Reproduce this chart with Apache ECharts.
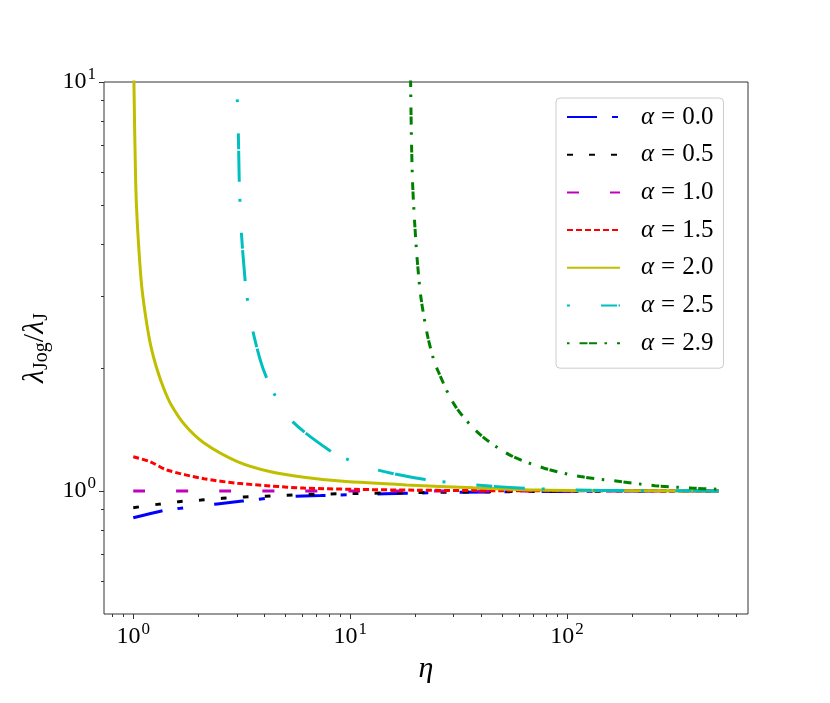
<!DOCTYPE html>
<html>
<head>
<meta charset="utf-8">
<script src="https://cdn.jsdelivr.net/npm/echarts@6/dist/echarts.min.js"></script>
<style>
  html, body { margin: 0; padding: 0; background: #fff; }
  #myChart { width: 830px; height: 703px; }
</style>
</head>
<body>
<div id="myChart"></div>
<script>
// values: eta on x, lambda_Jog / lambda_J on y
const eta00 = [1, 1.37, 1.65, 2.44, 4.15, 5.12, 7.31, 10.4, 20, 50, 100, 200, 500]
const val00 = [0.860, 0.895, 0.907, 0.929, 0.959, 0.968, 0.974, 0.979, 0.988, 0.995, 0.997, 0.999, 1.0]

const eta05 = [1, 1.29, 1.62, 2.05, 2.57, 3.24, 4.08, 5.12, 6.45, 8.12, 10.2, 20, 50, 100, 200, 500]
const val05 = [0.910, 0.927, 0.941, 0.950, 0.959, 0.966, 0.970, 0.976, 0.981, 0.983, 0.985, 0.991, 0.996, 0.998, 0.999, 1.0]

const eta10 = [1, 10, 100, 500]
const val10 = [1, 1, 1, 1]

const eta15 = [1, 1.19, 1.43, 2.12, 3.02, 4.30, 6.12, 10.4, 20, 50, 100, 500]
const val15 = [1.212, 1.18, 1.125, 1.071, 1.044, 1.028, 1.016, 1.009, 1.004, 1.001, 1.0005, 1.0]

const eta20 = [1.004, 1.007, 1.026, 1.043, 1.089, 1.138, 1.203, 1.29, 1.385, 1.49, 1.73, 2.12, 3.02, 4.30, 6.12, 8.98, 18.2, 36.9, 75, 150, 500]
const val20 = [14, 10.0, 5.69, 4.55, 3.24, 2.69, 2.27, 1.975, 1.775, 1.63, 1.449, 1.31, 1.18, 1.114, 1.08, 1.057, 1.034, 1.018, 1.005, 1.002, 1.0]

const eta25 = [3.016, 3.05, 3.08, 3.10, 3.15, 3.28, 3.35, 3.56, 3.87, 4.10, 4.45, 5.41, 8.13, 9.59, 13.3, 22.2, 37.9, 63.9, 109, 184, 500]
const val25 = [9.07, 7.47, 5.72, 5.17, 4.28, 3.26, 2.96, 2.46, 2.07, 1.90, 1.73, 1.48, 1.25, 1.197, 1.126, 1.066, 1.034, 1.015, 1.005, 1.002, 1.0]

const eta29 = [18.95, 19.0, 19.07, 19.2, 19.42, 19.84, 20.39, 21.21, 22.68, 24.16, 25.35, 30.1, 38.96, 54.0, 77.9, 115.3, 171.7, 254, 375, 500]
const val29 = [11.5, 9.81, 8.45, 6.87, 5.56, 4.50, 3.65, 2.96, 2.41, 2.11, 1.97, 1.63, 1.386, 1.227, 1.138, 1.084, 1.056, 1.030, 1.016, 1.009]

const alphas = ['0.0', '0.5', '1.0', '1.5', '2.0', '2.5', '2.9']

// tick positions (log axes)
const xMajor = [1, 10, 100]
const xMinor = [0.8, 0.9, 2, 3, 4, 5, 6, 7, 8, 9, 20, 30, 40, 50, 60, 70, 80, 90, 200, 300, 400, 500, 600]
const yMajor = [1, 10]
const yMinor = [0.6, 0.7, 0.8, 0.9, 2, 3, 4, 5, 6, 7, 8, 9]

const FONT = '"Liberation Serif", "DejaVu Serif", serif'
const AXIS_COLOR = '#333'

const lg = Math.log10
const xMin = -0.05 * lg(500)
const xMax = 1.05 * lg(500)
const yMin = lg(0.5)
const yMax = 1

const curves = [
  { eta: eta00, val: val00, color: '#0000ff', dash: [30, 15, 6, 31] },
  { eta: eta05, val: val05, color: '#000000', dash: [6, 16] },
  { eta: eta10, val: val10, color: '#bf00bf', dash: [12, 31] },
  { eta: eta15, val: val15, color: '#ff0000', dash: [6, 3] },
  { eta: eta20, val: val20, color: '#bfbf00', dash: 'solid' },
  { eta: eta25, val: val25, color: '#00bfbf', dash: [3, 31, 16, 1.5, 31, 17] },
  { eta: eta29, val: val29, color: '#008000', dash: [2.5, 10, 8, 1.5, 8, 7.5] }
]

const names = alphas.map(a => 'α = ' + a)

const series = curves.map((c, i) => ({
  name: names[i],
  type: 'line',
  data: c.eta.map((e, k) => [lg(e), lg(c.val[k])]),
  symbol: 'none',
  showSymbol: false,
  smooth: 0.3,
  clip: true,
  silent: true,
  color: c.color,
  lineStyle: { color: c.color, width: 3, type: c.dash, cap: 'butt' }
}))

const supRich = {
  b: { fontFamily: FONT, fontSize: 24, color: '#000' },
  s: { fontFamily: FONT, fontSize: 17, color: '#000', padding: [0, 0, 15, 1] }
}
const powLabel = v => '{b|10}{s|' + Math.round(v) + '}'

const option = {
  animation: false,
  backgroundColor: '#fff',
  grid: {
    show: true, left: 104, top: 82, width: 644, height: 532,
    borderColor: AXIS_COLOR, borderWidth: 1, backgroundColor: '#fff'
  },
  legend: {
    orient: 'vertical', left: 556, top: 98,
    padding: [6, 10, 12, 10],
    itemWidth: 53, itemHeight: 14, itemGap: 11.7,
    backgroundColor: '#fff', borderColor: '#cccccc', borderWidth: 1, borderRadius: 4,
    itemStyle: { opacity: 0, color: 'rgba(0,0,0,0)', borderWidth: 0 },
    selectedMode: false,
    data: names,
    formatter: n => '{g| }{a|α}{e|=}{n|' + n.split('= ')[1] + '}',
    textStyle: {
      fontFamily: FONT, fontSize: 25, lineHeight: 26, color: '#000',
      rich: {
        g: { width: 16, lineHeight: 26 },
        a: { fontFamily: FONT, fontSize: 25, fontStyle: 'italic', lineHeight: 26 },
        e: { fontFamily: FONT, fontSize: 25, lineHeight: 26, padding: [0, 7, 0, 7] },
        n: { fontFamily: FONT, fontSize: 25, lineHeight: 26 }
      }
    }
  },
  xAxis: [
    {
      type: 'value', min: xMin, max: xMax,
      name: 'η', nameLocation: 'middle', nameGap: 22,
      nameTextStyle: { fontFamily: FONT, fontSize: 30, fontStyle: 'italic', color: '#000' },
      axisLine: { show: false, onZero: false },
      splitLine: { show: false },
      axisTick: { length: 5, lineStyle: { color: AXIS_COLOR }, customValues: xMajor.map(lg) },
      axisLabel: { margin: 7, customValues: xMajor.map(lg), formatter: powLabel, rich: supRich }
    },
    {
      type: 'value', min: xMin, max: xMax, position: 'bottom',
      axisLine: { show: false, onZero: false },
      splitLine: { show: false },
      axisTick: { length: 3, lineStyle: { color: AXIS_COLOR }, customValues: xMinor.map(lg) },
      axisLabel: { show: false }
    }
  ],
  yAxis: [
    {
      type: 'value', min: yMin, max: yMax,
      name: '{l|λ}{s|Jog}{d|/}{l|λ}{s|J}', nameLocation: 'middle', nameGap: 40, nameRotate: 90,
      nameTextStyle: {
        fontFamily: FONT, fontSize: 30, color: '#000',
        rich: {
          l: { fontFamily: FONT, fontSize: 30, fontStyle: 'italic' },
          s: { fontFamily: FONT, fontSize: 20, padding: [12, 0, 0, 0] },
          d: { fontFamily: FONT, fontSize: 30 }
        }
      },
      axisLine: { show: false, onZero: false },
      splitLine: { show: false },
      axisTick: { length: 5, lineStyle: { color: AXIS_COLOR }, customValues: yMajor.map(lg) },
      axisLabel: { margin: 8, customValues: yMajor.map(lg), formatter: powLabel, rich: supRich }
    },
    {
      type: 'value', min: yMin, max: yMax, position: 'left',
      axisLine: { show: false, onZero: false },
      splitLine: { show: false },
      axisTick: { length: 3, lineStyle: { color: AXIS_COLOR }, customValues: yMinor.map(lg) },
      axisLabel: { show: false }
    }
  ],
  series: series
}

const myChart = echarts.init(document.getElementById('myChart'))
myChart.setOption(option)
</script>
</body>
</html>
